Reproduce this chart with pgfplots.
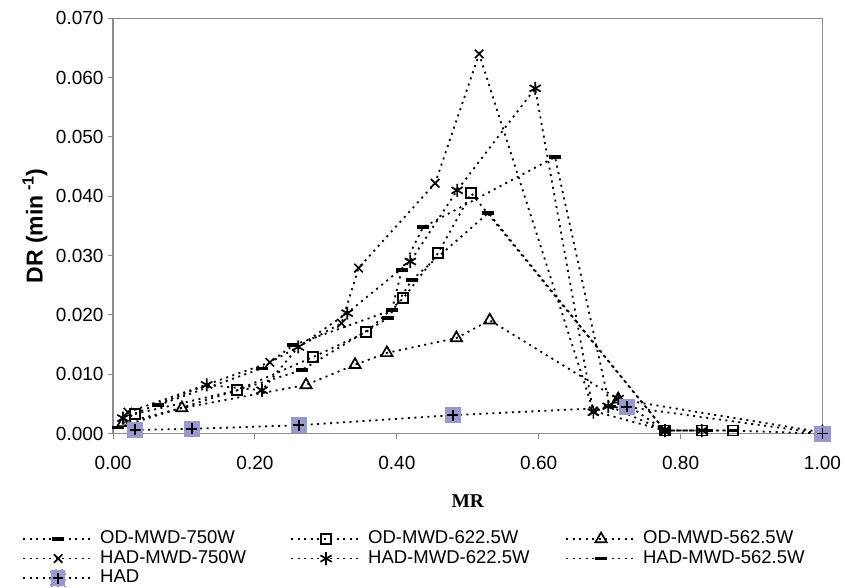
\documentclass[border=0pt]{standalone}
\usepackage{fontspec}
\setmainfont{Liberation Sans}
\newfontfamily\timesfont{Liberation Serif}
\usepackage{pgfplots}
\pgfplotsset{compat=1.18}
\definecolor{hadfill}{RGB}{153,153,208}
\definecolor{axgray}{RGB}{140,140,140}

\pgfplotstableread{
x y
0.007 0.0010
0.266 0.0107
0.388 0.0195
0.421 0.0259
0.529 0.0372
0.778 0.0005
0.837 0.0005
}\odA
\pgfplotstableread{
x y
0.031 0.0033
0.175 0.0073
0.282 0.0129
0.357 0.0171
0.409 0.0228
0.458 0.0304
0.505 0.0405
0.778 0.0005
0.830 0.0005
0.874 0.0005
1.000 0.0000
}\odB
\pgfplotstableread{
x y
0.014 0.0018
0.097 0.0043
0.272 0.0082
0.341 0.0116
0.386 0.0136
0.484 0.0161
0.531 0.0191
0.712 0.0058
1.000 0.0002
}\odC
\pgfplotstableread{
x y
0.021 0.0036
0.221 0.0120
0.322 0.0186
0.346 0.0279
0.454 0.0422
0.516 0.0640
0.677 0.0038
0.778 0.0005
}\hadA
\pgfplotstableread{
x y
0.014 0.0026
0.132 0.0082
0.210 0.0073
0.261 0.0146
0.330 0.0203
0.419 0.0290
0.485 0.0410
0.595 0.0582
0.677 0.0036
0.698 0.0046
0.712 0.0059
0.778 0.0005
0.830 0.0005
}\hadB
\pgfplotstableread{
x y
0.064 0.0048
0.210 0.0110
0.254 0.0149
0.393 0.0208
0.407 0.0276
0.437 0.0348
0.623 0.0466
0.700 0.0046
0.778 0.0005
0.874 0.0005
}\hadC
\pgfplotstableread{
x y
0.031 0.0006
0.111 0.0008
0.262 0.0014
0.479 0.0031
0.724 0.0045
1.000 0.0000
}\had

\pgfplotsset{
  ser/.style={black, line width=1.8pt, dash pattern=on 2pt off 4.5pt,
    mark options={solid, line width=1.7pt, fill=white}},
}

\begin{document}
\begin{tikzpicture}
\begin{axis}[
  name=ax,
  width=709pt, height=415pt, scale only axis,
  xmin=0, xmax=1, ymin=0, ymax=0.07,
  xtick={0,0.2,0.4,0.6,0.8,1.0},
  ytick={0,0.01,0.02,0.03,0.04,0.05,0.06,0.07},
  scaled y ticks=false, scaled x ticks=false,
  axis line style={axgray, line width=1.3pt},
  tick style={axgray, line width=1pt},
  tick align=outside, major tick length=5pt,
  xtick pos=bottom, ytick pos=left,
  /pgf/number format/assume math mode=true,
  x tick label style={yshift=-14pt, /pgf/number format/.cd, fixed, fixed zerofill, precision=2},
  y tick label style={xshift=-1pt, /pgf/number format/.cd, fixed, fixed zerofill, precision=3},
  ticklabel style={font=\fontsize{19}{22}\selectfont},
  clip=false,
  xlabel={\timesfont\bfseries MR},
  xlabel style={at={(axis description cs:0.5,-0.163)}, anchor=center, font=\fontsize{19.5}{22}\selectfont},
  ylabel={\bfseries DR (min\textsuperscript{ -1})},
  ylabel style={at={(axis description cs:-0.110,0.5)}, anchor=center, font=\fontsize{23}{27}\selectfont},
  legend columns=3,
  legend style={at={(0,0)}, anchor=north west, xshift=-91pt, yshift=-96pt,
    draw=none, fill=none, inner sep=0pt, row sep=1pt, column sep=0pt,
    font=\fontsize{18.5}{21}\selectfont,
    nodes={inner sep=1pt, text height=13pt, text depth=3.5pt},
    cells={anchor=west}},
  legend image code/.code={\draw[mark repeat=2,mark phase=2,#1] plot coordinates {(0pt,0pt)(35pt,0pt)(70pt,0pt)};},
]
\addplot[ser, mark=-, mark size=6pt, mark options={solid, line width=3.5pt}] table {\odA};
\addlegendentry{\makebox[194pt][l]{\ OD-MWD-750W}}
\addplot[ser, mark=square, mark size=5pt] table {\odB};
\addlegendentry{\makebox[201pt][l]{\ OD-MWD-622.5W}}
\addplot[ser, mark=triangle, mark size=6.5pt] table {\odC};
\addlegendentry{\ OD-MWD-562.5W}
\addplot[ser, mark=x, mark size=6pt] table {\hadA};
\addlegendentry{\makebox[194pt][l]{\ HAD-MWD-750W}}
\addplot[ser, mark=asterisk, mark size=6.5pt] table {\hadB};
\addlegendentry{\makebox[201pt][l]{\ HAD-MWD-622.5W}}
\addplot[ser, mark=-, mark size=6pt, mark options={solid, line width=3.5pt}] table {\hadC};
\addlegendentry{\ HAD-MWD-562.5W}
\addplot[ser, mark=square*, mark size=7.5pt, mark options={solid, fill=hadfill, draw=hadfill, line width=0pt},
  legend image code/.code={
    \draw[black, line width=1.8pt, dash pattern=on 2pt off 4.5pt] (0pt,0pt) -- (70pt,0pt);
    \fill[hadfill] (28pt,-8pt) rectangle (42pt,8pt);
    \draw[black, solid, line width=1.7pt] (30pt,0pt) -- (40pt,0pt) (35pt,-5.5pt) -- (35pt,5.5pt);}]
  table {\had};
\addlegendentry{\ HAD}
\addplot[only marks, black, mark=+, mark size=5.5pt, mark options={solid, line width=1.7pt}, forget plot] table {\had};
\end{axis}
\pgfresetboundingbox
\path ([xshift=-113pt,yshift=-154pt]ax.south west) rectangle ([xshift=22.5pt,yshift=18.3pt]ax.north east);
\end{tikzpicture}
\end{document}
